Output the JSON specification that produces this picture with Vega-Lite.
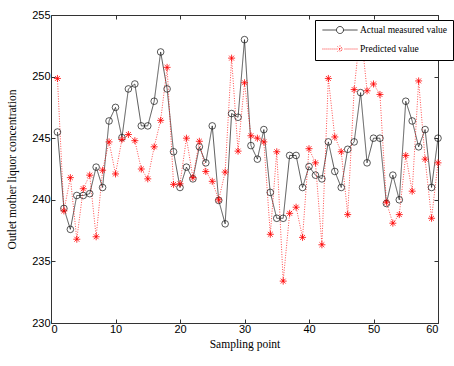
{
  "$schema": "https://vega.github.io/schema/vega-lite/v6.json",
  "width": 387,
  "height": 308,
  "autosize": {"type": "none"},
  "padding": {"left": 51, "top": 15, "right": 16, "bottom": 43},
  "background": "white",
  "config": {
    "view": {"stroke": "#333", "strokeWidth": 1},
    "axis": {
      "grid": false,
      "domainColor": "#333",
      "tickColor": "#333",
      "tickSize": -4,
      "labelFont": "Liberation Sans",
      "labelFontSize": 11,
      "labelColor": "#000",
      "titleFont": "Liberation Serif",
      "titleFontSize": 11.5,
      "titleFontWeight": "normal",
      "titleColor": "#000"
    }
  },
  "data": {
    "values": [
      {"x": 1, "v": 245.5, "s": "Actual measured value"},
      {"x": 2, "v": 239.3, "s": "Actual measured value"},
      {"x": 3, "v": 237.6, "s": "Actual measured value"},
      {"x": 4, "v": 240.35, "s": "Actual measured value"},
      {"x": 5, "v": 240.35, "s": "Actual measured value"},
      {"x": 6, "v": 240.5, "s": "Actual measured value"},
      {"x": 7, "v": 242.65, "s": "Actual measured value"},
      {"x": 8, "v": 241.0, "s": "Actual measured value"},
      {"x": 9, "v": 246.4, "s": "Actual measured value"},
      {"x": 10, "v": 247.5, "s": "Actual measured value"},
      {"x": 11, "v": 245.05, "s": "Actual measured value"},
      {"x": 12, "v": 249.0, "s": "Actual measured value"},
      {"x": 13, "v": 249.4, "s": "Actual measured value"},
      {"x": 14, "v": 246.0, "s": "Actual measured value"},
      {"x": 15, "v": 246.0, "s": "Actual measured value"},
      {"x": 16, "v": 248.0, "s": "Actual measured value"},
      {"x": 17, "v": 252.0, "s": "Actual measured value"},
      {"x": 18, "v": 249.0, "s": "Actual measured value"},
      {"x": 19, "v": 243.9, "s": "Actual measured value"},
      {"x": 20, "v": 241.0, "s": "Actual measured value"},
      {"x": 21, "v": 242.65, "s": "Actual measured value"},
      {"x": 22, "v": 241.7, "s": "Actual measured value"},
      {"x": 23, "v": 244.3, "s": "Actual measured value"},
      {"x": 24, "v": 243.0, "s": "Actual measured value"},
      {"x": 25, "v": 246.0, "s": "Actual measured value"},
      {"x": 26, "v": 239.95, "s": "Actual measured value"},
      {"x": 27, "v": 238.05, "s": "Actual measured value"},
      {"x": 28, "v": 247.0, "s": "Actual measured value"},
      {"x": 29, "v": 246.7, "s": "Actual measured value"},
      {"x": 30, "v": 253.0, "s": "Actual measured value"},
      {"x": 31, "v": 244.4, "s": "Actual measured value"},
      {"x": 32, "v": 243.3, "s": "Actual measured value"},
      {"x": 33, "v": 245.7, "s": "Actual measured value"},
      {"x": 34, "v": 240.6, "s": "Actual measured value"},
      {"x": 35, "v": 238.5, "s": "Actual measured value"},
      {"x": 36, "v": 238.5, "s": "Actual measured value"},
      {"x": 37, "v": 243.6, "s": "Actual measured value"},
      {"x": 38, "v": 243.6, "s": "Actual measured value"},
      {"x": 39, "v": 241.0, "s": "Actual measured value"},
      {"x": 40, "v": 242.7, "s": "Actual measured value"},
      {"x": 41, "v": 242.0, "s": "Actual measured value"},
      {"x": 42, "v": 241.7, "s": "Actual measured value"},
      {"x": 43, "v": 244.7, "s": "Actual measured value"},
      {"x": 44, "v": 242.3, "s": "Actual measured value"},
      {"x": 45, "v": 241.0, "s": "Actual measured value"},
      {"x": 46, "v": 244.1, "s": "Actual measured value"},
      {"x": 47, "v": 244.7, "s": "Actual measured value"},
      {"x": 48, "v": 248.7, "s": "Actual measured value"},
      {"x": 49, "v": 243.0, "s": "Actual measured value"},
      {"x": 50, "v": 245.0, "s": "Actual measured value"},
      {"x": 51, "v": 245.0, "s": "Actual measured value"},
      {"x": 52, "v": 239.7, "s": "Actual measured value"},
      {"x": 53, "v": 242.0, "s": "Actual measured value"},
      {"x": 54, "v": 240.0, "s": "Actual measured value"},
      {"x": 55, "v": 248.0, "s": "Actual measured value"},
      {"x": 56, "v": 246.4, "s": "Actual measured value"},
      {"x": 57, "v": 244.3, "s": "Actual measured value"},
      {"x": 58, "v": 245.7, "s": "Actual measured value"},
      {"x": 59, "v": 241.0, "s": "Actual measured value"},
      {"x": 60, "v": 245.0, "s": "Actual measured value"},
      {"x": 1, "v": 249.85, "s": "Predicted value"},
      {"x": 2, "v": 239.1, "s": "Predicted value"},
      {"x": 3, "v": 241.8, "s": "Predicted value"},
      {"x": 4, "v": 236.8, "s": "Predicted value"},
      {"x": 5, "v": 240.9, "s": "Predicted value"},
      {"x": 6, "v": 242.0, "s": "Predicted value"},
      {"x": 7, "v": 237.0, "s": "Predicted value"},
      {"x": 8, "v": 242.4, "s": "Predicted value"},
      {"x": 9, "v": 244.7, "s": "Predicted value"},
      {"x": 10, "v": 242.1, "s": "Predicted value"},
      {"x": 11, "v": 244.9, "s": "Predicted value"},
      {"x": 12, "v": 245.3, "s": "Predicted value"},
      {"x": 13, "v": 244.8, "s": "Predicted value"},
      {"x": 14, "v": 242.5, "s": "Predicted value"},
      {"x": 15, "v": 241.7, "s": "Predicted value"},
      {"x": 16, "v": 244.3, "s": "Predicted value"},
      {"x": 17, "v": 246.45, "s": "Predicted value"},
      {"x": 18, "v": 250.75, "s": "Predicted value"},
      {"x": 19, "v": 241.25, "s": "Predicted value"},
      {"x": 20, "v": 241.3, "s": "Predicted value"},
      {"x": 21, "v": 245.0, "s": "Predicted value"},
      {"x": 22, "v": 241.8, "s": "Predicted value"},
      {"x": 23, "v": 244.75, "s": "Predicted value"},
      {"x": 24, "v": 242.3, "s": "Predicted value"},
      {"x": 25, "v": 241.5, "s": "Predicted value"},
      {"x": 26, "v": 240.0, "s": "Predicted value"},
      {"x": 27, "v": 242.25, "s": "Predicted value"},
      {"x": 28, "v": 251.5, "s": "Predicted value"},
      {"x": 29, "v": 243.95, "s": "Predicted value"},
      {"x": 30, "v": 249.5, "s": "Predicted value"},
      {"x": 31, "v": 245.2, "s": "Predicted value"},
      {"x": 32, "v": 245.0, "s": "Predicted value"},
      {"x": 33, "v": 244.7, "s": "Predicted value"},
      {"x": 34, "v": 237.2, "s": "Predicted value"},
      {"x": 35, "v": 243.9, "s": "Predicted value"},
      {"x": 36, "v": 233.4, "s": "Predicted value"},
      {"x": 37, "v": 238.9, "s": "Predicted value"},
      {"x": 38, "v": 239.4, "s": "Predicted value"},
      {"x": 39, "v": 236.95, "s": "Predicted value"},
      {"x": 40, "v": 244.15, "s": "Predicted value"},
      {"x": 41, "v": 243.0, "s": "Predicted value"},
      {"x": 42, "v": 236.35, "s": "Predicted value"},
      {"x": 43, "v": 249.85, "s": "Predicted value"},
      {"x": 44, "v": 245.1, "s": "Predicted value"},
      {"x": 45, "v": 243.9, "s": "Predicted value"},
      {"x": 46, "v": 238.8, "s": "Predicted value"},
      {"x": 47, "v": 248.95, "s": "Predicted value"},
      {"x": 48, "v": 254.0, "s": "Predicted value"},
      {"x": 49, "v": 248.85, "s": "Predicted value"},
      {"x": 50, "v": 249.4, "s": "Predicted value"},
      {"x": 51, "v": 248.55, "s": "Predicted value"},
      {"x": 52, "v": 239.8, "s": "Predicted value"},
      {"x": 53, "v": 238.1, "s": "Predicted value"},
      {"x": 54, "v": 238.8, "s": "Predicted value"},
      {"x": 55, "v": 243.6, "s": "Predicted value"},
      {"x": 56, "v": 240.7, "s": "Predicted value"},
      {"x": 57, "v": 249.65, "s": "Predicted value"},
      {"x": 58, "v": 243.3, "s": "Predicted value"},
      {"x": 59, "v": 238.5, "s": "Predicted value"},
      {"x": 60, "v": 243.0, "s": "Predicted value"}
    ]
  },
  "resolve": {"axis": {"x": "independent", "y": "independent"}},
  "layer": [
    {
      "mark": {"type": "line", "strokeWidth": 0.7},
      "encoding": {
        "x": {
          "field": "x", "type": "quantitative",
          "scale": {"domain": [0, 60], "nice": false, "zero": false},
          "axis": {"values": [0, 10, 20, 30, 40, 50, 60], "title": "Sampling point", "labelPadding": 4, "titlePadding": 4, "domain": false}
        },
        "y": {
          "field": "v", "type": "quantitative",
          "scale": {"domain": [230, 255], "nice": false, "zero": false},
          "axis": {"values": [230, 235, 240, 245, 250, 255], "title": "Outlet mother liquor concentration", "labelPadding": 5, "titlePadding": 14, "domain": false}
        },
        "color": {
          "field": "s", "type": "nominal",
          "scale": {"domain": ["Actual measured value", "Predicted value"], "range": ["#111111", "#ff0000"]},
          "legend": {
            "title": null,
            "orient": "none",
            "legendX": 264,
            "legendY": 5,
            "direction": "vertical",
            "strokeColor": "#000",
            "fillColor": "#fff",
            "padding": 5,
            "rowPadding": 7,
            "symbolSize": 81,
            "symbolOffset": 15,
            "symbolStrokeWidth": 0.8,
            "labelOffset": 15,
            "labelFont": "Liberation Serif",
            "labelFontSize": 9.5,
            "labelColor": "#000",
            "encode": {
              "symbols": {
                "update": {
                  "shape": {"signal": "datum.value === 'Actual measured value' ? 'M-3.9,0L-0.78,0M0.78,0L3.9,0M0.78,0A0.78,0.78,0,1,1,-0.78,0A0.78,0.78,0,1,1,0.78,0' : 'M-3.9,0L-3.68,0M-3.456,0L-3.236,0M-3.012,0L-2.792,0M-2.568,0L-2.348,0M-2.124,0L-1.904,0M-1.68,0L-1.46,0M-1.236,0L-1.016,0M1,0L1.22,0M1.444,0L1.664,0M1.888,0L2.108,0M2.332,0L2.552,0M2.776,0L2.996,0M3.22,0L3.44,0M3.664,0L3.884,0M-0.78,0L0.78,0M0,-0.78L0,0.78M-0.55,-0.55L0.55,0.55M-0.55,0.55L0.55,-0.55'"},
                  "strokeDash": {"value": [1, 0]},
                  "fill": {"value": "transparent"}
                }
              }
            }
          }
        },
        "strokeDash": {
          "field": "s", "type": "nominal",
          "scale": {"domain": ["Actual measured value", "Predicted value"], "range": [[1, 0], [1, 1.5]]},
          "legend": null
        }
      }
    },
    {
      "transform": [{"filter": "datum.s === 'Actual measured value'"}],
      "mark": {"type": "point", "shape": "circle", "filled": false, "size": 44, "strokeWidth": 0.7, "color": "#111111", "opacity": 1},
      "encoding": {
        "x": {
          "field": "x", "type": "quantitative",
          "axis": {"orient": "top", "values": [0, 10, 20, 30, 40, 50, 60], "labels": false, "title": null, "domain": false}
        },
        "y": {
          "field": "v", "type": "quantitative",
          "axis": {"orient": "right", "values": [230, 235, 240, 245, 250, 255], "labels": false, "title": null, "domain": false}
        }
      }
    },
    {
      "transform": [{"filter": "datum.s === 'Predicted value'"}],
      "mark": {"type": "point", "shape": "M-1,0L1,0M0,-1L0,1M-0.7,-0.7L0.7,0.7M-0.7,0.7L0.7,-0.7", "filled": false, "size": 49, "strokeWidth": 0.8, "color": "#ff0000", "opacity": 1},
      "encoding": {
        "x": {"field": "x", "type": "quantitative", "axis": null},
        "y": {"field": "v", "type": "quantitative", "axis": null}
      }
    }
  ]
}
